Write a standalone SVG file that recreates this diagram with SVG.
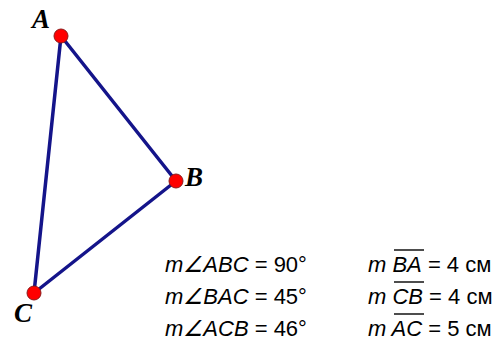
<svg xmlns="http://www.w3.org/2000/svg" width="497" height="350" viewBox="0 0 497 350">
<style>
.edge{stroke:#14148a;stroke-width:3.5;fill:none;stroke-linecap:round}
.pt{fill:#ff0000;stroke:#8b1a1a;stroke-width:1}
.lbl{font-family:"Liberation Serif",serif;font-weight:bold;font-style:italic;font-size:27px;fill:#000}
.m{font-family:"Liberation Sans",Arial,sans-serif;font-size:22px;fill:#000}
.i{font-style:italic}
.ov{stroke:#000;stroke-width:1.4}
</style>
<rect width="497" height="350" fill="#fff"/>
<g id="connectors">
<line class="edge" x1="61" y1="36" x2="176" y2="181"/>
<line class="edge" x1="176" y1="181" x2="34" y2="293"/>
<line class="edge" x1="34" y1="293" x2="61" y2="36"/>
</g>
<g id="A"><circle class="pt" cx="61" cy="36" r="7"/><text class="lbl" x="32" y="28">A</text></g>
<g id="B"><circle class="pt" cx="176" cy="181" r="7"/><text class="lbl" x="185" y="186">B</text></g>
<g id="C"><circle class="pt" cx="34" cy="293" r="7"/><text class="lbl" x="14" y="322">C</text></g>
<g id="angles">
<text class="m" x="165" y="272"><tspan class="i">m∠ABC</tspan> = 90°</text>
<text class="m" x="165" y="304"><tspan class="i">m∠BAC</tspan> = 45°</text>
<text class="m" x="165" y="336"><tspan class="i">m∠ACB</tspan> = 46°</text>
</g>
<g id="lengths">
<text class="m" x="368" y="272"><tspan class="i">m BA</tspan> = 4 см</text>
<text class="m" x="368" y="304"><tspan class="i">m CB</tspan> = 4 см</text>
<text class="m" x="368" y="336"><tspan class="i">m AC</tspan> = 5 см</text>
<line class="ov" x1="394" y1="250" x2="424" y2="250"/>
<line class="ov" x1="394" y1="282" x2="424" y2="282"/>
<line class="ov" x1="394" y1="314" x2="424" y2="314"/>
</g>
</svg>
